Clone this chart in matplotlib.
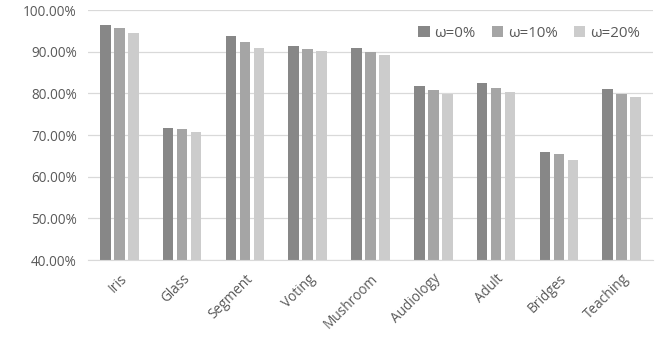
import numpy as np
import matplotlib.pyplot as plt
from matplotlib.ticker import FuncFormatter

# accuracy per dataset for each noise level
datasets = ['Iris', 'Glass', 'Segment', 'Voting', 'Mushroom', 'Audiology', 'Adult', 'Bridges', 'Teaching']
acc_w0 = [96.4, 71.8, 93.8, 91.4, 91.0, 81.8, 82.6, 65.9, 81.0]
acc_w10 = [95.6, 71.4, 92.4, 90.7, 90.0, 80.8, 81.3, 65.4, 79.9]
acc_w20 = [94.5, 70.8, 90.8, 90.2, 89.2, 79.9, 80.3, 64.0, 79.1]
series_labels = ['ω=0%', 'ω=10%', 'ω=20%']
colors = ['#878787', '#a5a5a5', '#cccccc']

plt.rcParams['font.family'] = ['Open Sans', 'DejaVu Sans']

fig = plt.figure(figsize=(6.61, 3.37), dpi=100)
ax = fig.add_axes([0.133, 0.228, 0.855, 0.742])

x = np.arange(len(datasets))
width = 0.168
step = 0.222
for i, (vals, lab, c) in enumerate(zip([acc_w0, acc_w10, acc_w20], series_labels, colors)):
    ax.bar(x + (i - 1) * step, vals, width, color=c, label=lab, zorder=2)

ax.set_xlim(-0.5, len(datasets) - 0.5)
ax.set_ylim(40, 100)
ax.set_yticks(np.arange(40, 101, 10))
ax.yaxis.set_major_formatter(FuncFormatter(lambda v, _: f'{v:.2f}%'))
ax.grid(axis='y', color='#d9d9d9', linewidth=0.9, zorder=0)
for s in ['top', 'right', 'left']:
    ax.spines[s].set_visible(False)
ax.spines['bottom'].set_color('#d9d9d9')
ax.tick_params(axis='both', length=0, colors='#595959', labelsize=9.8)
ax.tick_params(axis='y', pad=8)
ax.tick_params(axis='x', pad=8)
ax.set_xticks(x)
ax.set_xticklabels(datasets, rotation=45, ha='right', rotation_mode='anchor')

ax.legend(loc='upper right', bbox_to_anchor=(1.0, 0.99), ncol=3, frameon=False,
          fontsize=10.8, labelcolor='#595959', handlelength=0.75, handleheight=0.75,
          handletextpad=0.3, columnspacing=1.1)

fig.savefig('out.png', dpi=100)
